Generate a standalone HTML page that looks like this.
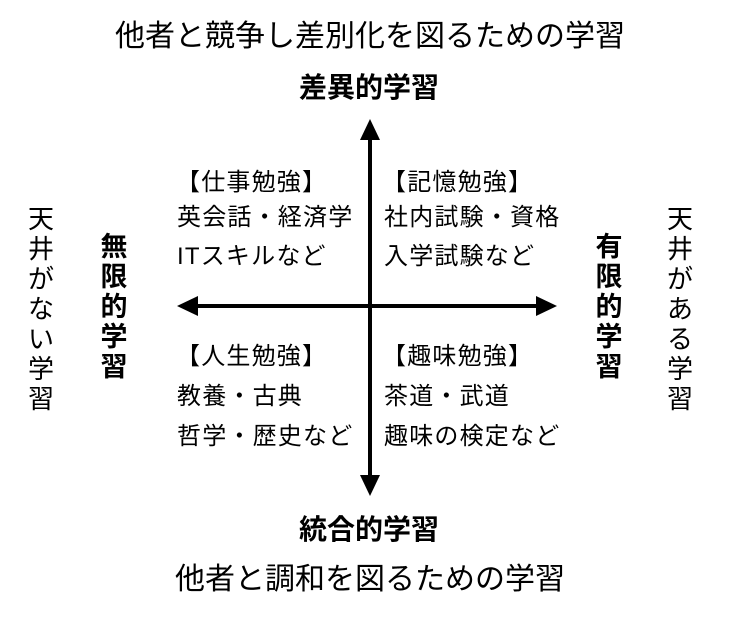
<!DOCTYPE html>
<html><head><meta charset="utf-8"><style>
body{margin:0;width:744px;height:620px;background:#fff;position:relative;overflow:hidden;font-family:"Liberation Sans","Noto Sans CJK JP",sans-serif;color:#000}
.t{position:absolute;white-space:nowrap;line-height:1}
.c{transform:translateX(-50%)}
.v{position:absolute;width:30px;text-align:center;line-height:30px;font-size:26px}
.b{font-weight:bold}
.q{font-size:24px;letter-spacing:1.2px}
</style></head><body>
<div class="t c" style="left:370px;top:22px;font-size:30px">他者と競争し差別化を図るための学習</div>
<div class="t c b" style="left:369px;top:74px;font-size:28px">差異的学習</div>
<div class="t c b" style="left:369px;top:516px;font-size:28px">統合的学習</div>
<div class="t c" style="left:370px;top:565px;font-size:30px">他者と調和を図るための学習</div>

<div class="v" style="left:26px;top:204px">天<br>井<br>が<br>な<br>い<br>学<br>習</div>
<div class="v b" style="left:99px;top:232px;font-size:27px">無<br>限<br>的<br>学<br>習</div>
<div class="v b" style="left:594px;top:232px;font-size:27px">有<br>限<br>的<br>学<br>習</div>
<div class="v" style="left:665px;top:204px">天<br>井<br>が<br>あ<br>る<br>学<br>習</div>

<div class="t q" style="left:176px;top:171px">【仕事勉強】</div>
<div class="t q" style="left:177px;top:206px">英会話・経済学</div>
<div class="t q" style="left:177px;top:245px">ITスキルなど</div>
<div class="t q" style="left:382px;top:171px">【記憶勉強】</div>
<div class="t q" style="left:384px;top:206px">社内試験・資格</div>
<div class="t q" style="left:384px;top:245px">入学試験など</div>

<div class="t q" style="left:176px;top:345px">【人生勉強】</div>
<div class="t q" style="left:177px;top:385px">教養・古典</div>
<div class="t q" style="left:177px;top:425px">哲学・歴史など</div>
<div class="t q" style="left:382px;top:345px">【趣味勉強】</div>
<div class="t q" style="left:384px;top:385px">茶道・武道</div>
<div class="t q" style="left:384px;top:425px">趣味の検定など</div>

<svg width="744" height="620" style="position:absolute;left:0;top:0">
<line x1="370" y1="135" x2="370" y2="480" stroke="#000" stroke-width="4"/>
<line x1="193" y1="306" x2="542" y2="306" stroke="#000" stroke-width="4"/>
<polygon points="370,119 360,140 380,140" fill="#000"/>
<polygon points="370,496 360,475 380,475" fill="#000"/>
<polygon points="177,306 198,296 198,316" fill="#000"/>
<polygon points="557,306 536,296 536,316" fill="#000"/>
</svg>
</body></html>
